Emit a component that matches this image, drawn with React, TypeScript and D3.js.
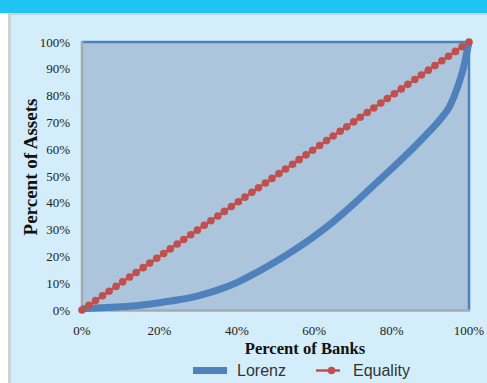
import React from "react";
import * as d3 from "d3";

// Cumulative share of banks (x) and of assets they hold (y), in percent
const bankShare = [0, 5, 10, 15, 20, 25, 30, 35, 40, 45, 50, 55, 60, 65, 70, 75, 80, 85, 90, 92.5, 95, 97, 98.5, 100];
const assetShare = [0.5, 0.8, 1.2, 1.8, 2.7, 3.8, 5.3, 7.4, 10.2, 13.9, 18, 22.5, 27.5, 33, 39.3, 46, 52.7, 59.6, 67, 71, 76, 83, 90, 100];

// Line of perfect equality, one marker per bank
const equalityShare = [
  0, 1.8, 3.5, 5.3, 7.0, 8.8, 10.5, 12.3, 14.0, 15.8, 17.5, 19.3, 21.1, 22.8, 24.6, 26.3, 28.1, 29.8,
  31.6, 33.3, 35.1, 36.8, 38.6, 40.4, 42.1, 43.9, 45.6, 47.4, 49.1, 50.9, 52.6, 54.4, 56.1, 57.9, 59.6,
  61.4, 63.2, 64.9, 66.7, 68.4, 70.2, 71.9, 73.7, 75.4, 77.2, 78.9, 80.7, 82.5, 84.2, 86.0, 87.7, 89.5,
  91.2, 93.0, 94.7, 96.5, 98.2, 100,
];

const xTicks = [0, 20, 40, 60, 80, 100];
const yTicks = [0, 10, 20, 30, 40, 50, 60, 70, 80, 90, 100];

const W = 487;
const H = 383;
const plot = { left: 82, right: 469, top: 42, bottom: 310 };

const serif = "'Liberation Serif', 'Times New Roman', serif";
const sans = "'Liberation Sans', Arial, sans-serif";

export default function App() {
  const x = d3.scaleLinear().domain([0, 100]).range([plot.left, plot.right]);
  const y = d3.scaleLinear().domain([0, 100]).range([plot.bottom, plot.top]);

  const lorenzPts: [number, number][] = bankShare.map((b, i) => [b, assetShare[i]]);
  const lorenzPath = d3
    .line<[number, number]>()
    .x((d) => x(d[0]))
    .y((d) => y(d[1]))
    .curve(d3.curveMonotoneX)(lorenzPts) as string;

  const eqPath = d3
    .line<number>()
    .x((d) => x(d))
    .y((d) => y(d))(equalityShare) as string;

  const blue = "#4F81BD";
  const red = "#C0504D";

  return (
    <div style={{ position: "fixed", left: 0, top: 0, width: W, height: H }}>
      <svg width={W} height={H} style={{ display: "block" }}>
        <rect x={0} y={0} width={W} height={H} fill="#ffffff" />
        {/* header band */}
        <rect x={0} y={0} width={W} height={13} fill="#20C4F4" />
        {/* chart frame */}
        <rect x={8} y={13} width={W} height={H} fill="#C9D3D8" />
        <rect x={11} y={15} width={W} height={H} fill="#D3EEFA" />

        {/* plot area */}
        <rect
          x={plot.left}
          y={plot.top}
          width={plot.right - plot.left}
          height={plot.bottom - plot.top}
          fill="#ADC5DC"
        />
        <line x1={plot.left} x2={plot.right + 1.2} y1={plot.top} y2={plot.top} stroke={blue} strokeWidth={2.5} />
        <line x1={plot.right} x2={plot.right} y1={plot.top} y2={plot.bottom} stroke={blue} strokeWidth={2.5} />
        <line x1={plot.left} x2={plot.left} y1={plot.top - 1} y2={plot.bottom + 1.5} stroke="#A3ABB2" strokeWidth={2.5} />
        <line x1={plot.left} x2={plot.right + 1.2} y1={plot.bottom + 0.5} y2={plot.bottom + 0.5} stroke="#A3ABB2" strokeWidth={2.5} />

        {/* y tick labels */}
        {yTicks.map((t) => (
          <text
            key={`y${t}`}
            x={70}
            y={y(t)}
            dy="0.35em"
            textAnchor="end"
            fontFamily={serif}
            fontSize={13}
            fill="#222"
          >
            {`${t}%`}
          </text>
        ))}

        {/* x tick labels */}
        {xTicks.map((t) => (
          <text
            key={`x${t}`}
            x={x(t)}
            y={335}
            textAnchor="middle"
            fontFamily={serif}
            fontSize={13}
            fill="#222"
          >
            {`${t}%`}
          </text>
        ))}

        {/* axis titles */}
        <text x={305} y={354} textAnchor="middle" fontFamily={serif} fontWeight="bold" fontSize={16.6} fill="#111">
          Percent of Banks
        </text>
        <text
          transform={`translate(36.5,167) rotate(-90)`}
          textAnchor="middle"
          fontFamily={serif}
          fontWeight="bold"
          fontSize={19}
          fill="#111"
        >
          Percent of Assets
        </text>

        {/* Lorenz curve */}
        <path d={lorenzPath} fill="none" stroke={blue} strokeWidth={7} strokeLinejoin="round" />

        {/* equality line with markers */}
        <path d={eqPath} fill="none" stroke={red} strokeWidth={2.5} />
        {equalityShare.map((v, i) => (
          <circle key={`e${i}`} cx={x(v)} cy={y(v)} r={3.8} fill={red} />
        ))}

        {/* legend */}
        <line x1={193} x2={227} y1={370.5} y2={370.5} stroke={blue} strokeWidth={7} />
        <text x={237} y={376} fontFamily={sans} fontSize={16} fill="#333">
          Lorenz
        </text>
        <line x1={316} x2={340} y1={370.5} y2={370.5} stroke={red} strokeWidth={2.5} />
        <circle cx={331.5} cy={370.5} r={3.8} fill={red} />
        <text x={353} y={376} fontFamily={sans} fontSize={16} fill="#333">
          Equality
        </text>
      </svg>
    </div>
  );
}
